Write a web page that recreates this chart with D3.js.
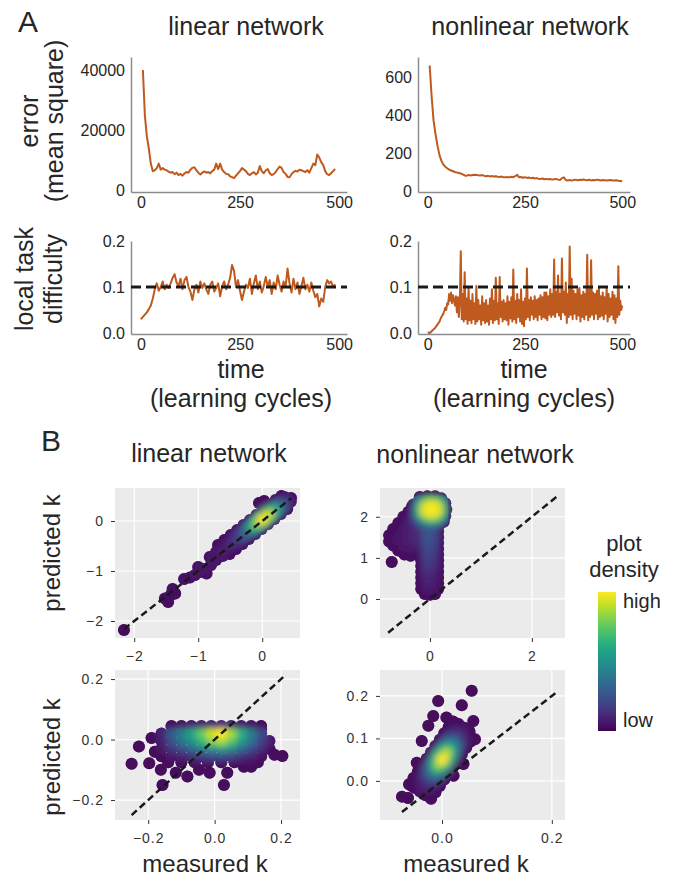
<!DOCTYPE html>
<html>
<head>
<meta charset="utf-8">
<script src="https://cdn.jsdelivr.net/npm/d3@7"></script>
<style>
  body { margin: 0; background: #fff; }
  text { font-family: "Liberation Sans", Arial, sans-serif; fill: #262626; }
</style>
</head>
<body>
<svg id="fig" width="673" height="880"></svg>
<script>

// ---- panel A data ----
var timeTicks = [0, 250, 500]

// sampled every 5 cycles from t = 5
var errLinear = [40000, 25000, 18000, 14000, 9000, 6500, 6800, 7500, 9000, 7000,
  7500, 7000, 6800, 6300, 6000, 6200, 5500, 6000, 5200, 5600,
  5000, 5800, 6200, 6000, 7000, 7600, 7800, 6800, 6000, 5400,
  6000, 6400, 6000, 6200, 5800, 6500, 7000, 9000, 7200, 9000,
  7000, 6200, 5600, 5500, 4800, 4500, 4200, 5000, 5800, 6500,
  7500, 7000, 6500, 5600, 5200, 5800, 6200, 5400, 6000, 8200,
  6500, 5800, 6800, 7200, 5800, 5200, 5500, 6200, 7200, 8000,
  7600, 6200, 5600, 4600, 4500, 5500, 6200, 6600, 6400, 7000,
  6800, 6500, 6200, 6800, 6000, 7500, 9000, 8500, 12000, 11000,
  9500, 8500, 6500, 5500, 5200, 5800, 6500, 7200]

// sampled every 5 cycles from t = 5
var errNonlinear = [660, 500, 370, 300, 240, 190, 160, 140, 128, 120,
  113, 108, 104, 100, 97, 95, 92, 88, 82, 80,
  85, 82, 84, 86, 85, 83, 82, 84, 80, 78,
  80, 77, 79, 76, 78, 75, 74, 76, 73, 72,
  74, 72, 75, 73, 78, 85, 72, 74, 70, 73,
  69, 71, 68, 70, 66, 68, 65, 64, 66, 62,
  64, 62, 63, 60, 62, 64, 60, 58, 68, 72,
  58, 56, 58, 55, 58, 60, 57, 59, 58, 61,
  58, 57, 59, 56, 58, 57, 60, 58, 56, 58,
  57, 55, 57, 58, 56, 55, 57, 54, 53, 51]

// sampled every 5 cycles from t = 0
var diffLinear = [0.030, 0.035, 0.040, 0.045, 0.052, 0.060, 0.075, 0.095, 0.108, 0.092,
  0.100, 0.112, 0.095, 0.105, 0.098, 0.108, 0.120, 0.128, 0.110, 0.102,
  0.118, 0.095, 0.115, 0.122, 0.100, 0.090, 0.072, 0.095, 0.105, 0.088,
  0.112, 0.098, 0.108, 0.095, 0.085, 0.105, 0.112, 0.090, 0.098, 0.108,
  0.080, 0.102, 0.112, 0.095, 0.105, 0.120, 0.148, 0.135, 0.100, 0.115,
  0.092, 0.072, 0.090, 0.105, 0.098, 0.118, 0.085, 0.108, 0.125, 0.095,
  0.112, 0.088, 0.102, 0.122, 0.100, 0.115, 0.085, 0.110, 0.095, 0.125,
  0.105, 0.090, 0.112, 0.100, 0.140, 0.108, 0.088, 0.118, 0.095, 0.110,
  0.085, 0.102, 0.120, 0.095, 0.105, 0.090, 0.110, 0.092, 0.078, 0.085,
  0.058, 0.075, 0.068, 0.100, 0.115, 0.108, 0.112, 0.100, 0.106]

// sampled every 2.5 cycles from t = 0
var diffNonlinear = [0.002, 0.001, 0.000, 0.002, 0.004, 0.006, 0.008, 0.010, 0.012, 0.016,
  0.018, 0.022, 0.024, 0.030, 0.035, 0.038, 0.042, 0.048, 0.055, 0.050, 0.065,
  0.062, 0.085, 0.070, 0.088, 0.065, 0.082, 0.072, 0.060, 0.080, 0.045,
  0.078, 0.035, 0.070, 0.178, 0.030, 0.085, 0.025, 0.132, 0.030, 0.075,
  0.020, 0.100, 0.028, 0.070, 0.022, 0.085, 0.030, 0.065, 0.020, 0.102,
  0.025, 0.072, 0.030, 0.060, 0.018, 0.080, 0.028, 0.065, 0.022, 0.072,
  0.025, 0.060, 0.018, 0.075, 0.030, 0.095, 0.022, 0.070, 0.028, 0.120,
  0.030, 0.065, 0.020, 0.122, 0.035, 0.068, 0.025, 0.072, 0.030, 0.065,
  0.028, 0.080, 0.018, 0.068, 0.032, 0.078, 0.025, 0.138, 0.030, 0.070,
  0.022, 0.085, 0.035, 0.072, 0.025, 0.095, 0.020, 0.068, 0.015, 0.075,
  0.030, 0.140, 0.035, 0.072, 0.028, 0.078, 0.040, 0.070, 0.030, 0.080,
  0.035, 0.072, 0.028, 0.075, 0.040, 0.082, 0.030, 0.078, 0.035, 0.088,
  0.032, 0.088, 0.028, 0.080, 0.040, 0.095, 0.035, 0.085, 0.040, 0.160,
  0.035, 0.090, 0.045, 0.125, 0.038, 0.085, 0.030, 0.162, 0.045, 0.090,
  0.040, 0.110, 0.022, 0.085, 0.035, 0.188, 0.040, 0.118, 0.030, 0.092,
  0.042, 0.085, 0.030, 0.095, 0.038, 0.098, 0.025, 0.082, 0.035, 0.090,
  0.030, 0.085, 0.040, 0.170, 0.028, 0.095, 0.035, 0.158, 0.040, 0.088,
  0.030, 0.085, 0.042, 0.092, 0.030, 0.100, 0.035, 0.080, 0.038, 0.088,
  0.030, 0.078, 0.042, 0.100, 0.025, 0.085, 0.035, 0.075, 0.040, 0.090,
  0.030, 0.082, 0.022, 0.075, 0.035, 0.145, 0.040, 0.070, 0.050, 0.060]

var targetDifficulty = 0.1

// ---- panel B data: [measured k, predicted k, plot density] ----
var linTopPts = [
  [-2.16, -2.18, 0.02],
  [-1.47, -1.62, 0.03], [-1.52, -1.55, 0.03], [-1.40, -1.36, 0.03], [-1.36, -1.45, 0.03], [-1.43, -1.48, 0.04],
  [-1.22, -1.16, 0.04], [-1.13, -1.13, 0.04], [-1.05, -1.08, 0.05],
  [-1.00, -0.92, 0.05], [-0.97, -1.02, 0.05], [-0.87, -1.05, 0.04], [-0.90, -0.96, 0.06], [-0.82, -0.72, 0.05],
  [-0.80, -0.88, 0.06], [-0.72, -0.62, 0.06], [-0.72, -0.78, 0.06], [-0.66, -0.60, 0.07], [-0.62, -0.70, 0.06],
  [-0.60, -0.57, 0.07], [-0.555, -0.615, 0.04], [-0.645, -0.525, 0.04], [-0.51, -0.66, 0.02], [-0.69, -0.48, 0.02],
  [-0.50, -0.47, 0.11], [-0.455, -0.515, 0.06], [-0.545, -0.425, 0.06], [-0.41, -0.56, 0.02], [-0.59, -0.38, 0.02],
  [-0.40, -0.37, 0.17], [-0.355, -0.415, 0.10], [-0.445, -0.325, 0.10], [-0.31, -0.46, 0.03], [-0.49, -0.28, 0.03],
  [-0.30, -0.27, 0.28], [-0.255, -0.315, 0.17], [-0.345, -0.225, 0.17], [-0.21, -0.36, 0.03], [-0.39, -0.18, 0.03],
  [-0.20, -0.17, 0.48], [-0.155, -0.215, 0.29], [-0.245, -0.125, 0.29], [-0.11, -0.26, 0.04], [-0.29, -0.08, 0.04],
  [-0.10, -0.07, 0.78], [-0.055, -0.115, 0.47], [-0.145, -0.025, 0.47], [-0.01, -0.16, 0.05], [-0.19, 0.02, 0.05],
  [0.00, 0.03, 0.98], [0.045, -0.015, 0.60], [-0.045, 0.075, 0.60], [0.09, -0.06, 0.06], [-0.09, 0.12, 0.06],
  [0.10, 0.13, 0.90], [0.145, 0.085, 0.54], [0.055, 0.175, 0.54], [0.19, 0.04, 0.05], [0.01, 0.22, 0.05],
  [0.20, 0.23, 0.62], [0.245, 0.185, 0.37], [0.155, 0.275, 0.37], [0.29, 0.14, 0.04], [0.11, 0.32, 0.04],
  [0.30, 0.33, 0.32], [0.345, 0.285, 0.19], [0.255, 0.375, 0.19], [0.39, 0.24, 0.03], [0.21, 0.42, 0.03],
  [0.40, 0.43, 0.10], [0.445, 0.385, 0.05], [0.355, 0.475, 0.05], [0.45, 0.46, 0.02], [0.30, 0.50, 0.02],
  [-0.05, 0.36, 0.02], [0.03, 0.40, 0.02]
]

// nonlinear, top row: upper blob and stem read on a grid, plus wing and rim
var nlTopBlobX = [-0.22, -0.10, 0.02, 0.14, 0.24]
var nlTopBlobY = [2.38, 2.26, 2.14, 2.02, 1.90]
var nlTopBlobD = [
  [0.30, 0.60, 0.75, 0.65, 0.35],
  [0.50, 0.88, 0.97, 0.92, 0.60],
  [0.55, 0.93, 1.00, 0.95, 0.62],
  [0.40, 0.72, 0.85, 0.78, 0.45],
  [0.20, 0.38, 0.48, 0.42, 0.20]
]
var nlStemX = [-0.17, -0.06, 0.06, 0.16]
var nlStemY = [1.64, 1.50, 1.36, 1.22, 1.08, 0.94, 0.80, 0.66, 0.52, 0.38, 0.24]
var nlStemD = [
  [0.04, 0.26, 0.22, 0.05], [0.04, 0.25, 0.21, 0.05], [0.04, 0.23, 0.20, 0.04],
  [0.03, 0.21, 0.18, 0.04], [0.03, 0.19, 0.16, 0.04], [0.03, 0.17, 0.14, 0.04],
  [0.03, 0.15, 0.12, 0.04], [0.03, 0.12, 0.10, 0.03], [0.03, 0.10, 0.08, 0.03],
  [0.03, 0.08, 0.07, 0.03], [0.02, 0.06, 0.05, 0.03]
]
var nlTopPts = [
  [-0.20, 2.48, 0.03], [-0.05, 2.50, 0.03], [0.10, 2.50, 0.03], [0.22, 2.45, 0.03], [0.30, 2.33, 0.03],
  [0.32, 2.18, 0.03], [0.30, 2.02, 0.03], [0.27, 1.88, 0.03], [0.18, 1.80, 0.05], [-0.32, 2.30, 0.05],
  [-0.34, 2.15, 0.07], [-0.33, 2.00, 0.08], [-0.28, 1.85, 0.08],
  [-0.12, 1.78, 0.24], [0.00, 1.78, 0.28], [0.10, 1.78, 0.18],
  [-0.10, 0.12, 0.03], [0.00, 0.10, 0.03], [0.10, 0.12, 0.03],
  [-0.80, 1.40, 0.03], [-0.80, 1.55, 0.03], [-0.72, 1.70, 0.03], [-0.62, 1.85, 0.03], [-0.52, 2.00, 0.04],
  [-0.42, 2.12, 0.04], [-0.35, 2.25, 0.04], [-0.72, 1.30, 0.03], [-0.62, 1.18, 0.03], [-0.50, 1.08, 0.03],
  [-0.38, 1.05, 0.03], [-0.26, 1.08, 0.04], [-0.65, 1.45, 0.05], [-0.55, 1.60, 0.06], [-0.45, 1.75, 0.07],
  [-0.38, 1.90, 0.09], [-0.28, 2.00, 0.12], [-0.52, 1.30, 0.06], [-0.42, 1.45, 0.08], [-0.32, 1.60, 0.10],
  [-0.26, 1.80, 0.13], [-0.40, 1.25, 0.06], [-0.28, 1.35, 0.09], [-0.28, 1.50, 0.11],
  [-0.75, 0.90, 0.02]
]

// linear, bottom row: core read on a grid, plus the sparse rim
var linBotX = [-0.16, -0.13, -0.10, -0.07, -0.04, -0.01, 0.02, 0.05, 0.08, 0.11, 0.14, 0.165]
var linBotY = [0.045, 0.02, -0.005, -0.03, -0.055]
var linBotD = [
  [null, 0.034, 0.05, 0.07, 0.09, 0.11, 0.12, 0.10, 0.075, 0.05, 0.026, null],
  [0.10, 0.28, 0.42, 0.58, 0.75, 0.92, 1.00, 0.85, 0.62, 0.42, 0.22, null],
  [0.085, 0.24, 0.36, 0.49, 0.64, 0.78, 0.85, 0.72, 0.53, 0.36, 0.19, 0.07],
  [0.05, 0.14, 0.21, 0.29, 0.38, 0.46, 0.50, 0.43, 0.31, 0.21, 0.11, 0.04],
  [0.02, 0.056, 0.084, 0.12, 0.15, 0.18, 0.20, 0.17, 0.12, 0.084, 0.044, null]
]
var linBotPts = [
  [-0.14, -0.075, 0.02], [-0.10, -0.075, 0.02], [-0.06, -0.075, 0.02], [-0.02, -0.075, 0.02],
  [0.02, -0.075, 0.02], [0.06, -0.075, 0.02], [0.10, -0.075, 0.02], [0.13, -0.075, 0.02],
  [-0.228, -0.023, 0.02], [-0.25, -0.08, 0.02], [-0.197, -0.078, 0.02], [-0.162, -0.10, 0.02],
  [-0.157, -0.15, 0.02], [-0.117, -0.11, 0.02], [-0.082, -0.122, 0.02], [-0.047, -0.10, 0.02],
  [-0.015, -0.11, 0.02], [0.028, -0.15, 0.02], [0.038, -0.11, 0.02], [0.088, -0.09, 0.02],
  [0.11, -0.09, 0.02], [0.148, -0.034, 0.02], [0.18, -0.05, 0.02], [0.204, -0.054, 0.02],
  [-0.18, -0.04, 0.02], [-0.19, 0.005, 0.02], [0.14, 0.035, 0.02]
]

// nonlinear, bottom row
var nlBotPts = [
  [-0.04, -0.025, 0.05], [-0.03, -0.034, 0.03], [-0.05, -0.016, 0.03], [-0.02, -0.042, 0.02], [-0.06, -0.008, 0.02],
  [-0.032, -0.01, 0.10], [-0.022, -0.019, 0.06], [-0.042, -0.001, 0.06], [-0.012, -0.027, 0.02], [-0.052, 0.007, 0.02],
  [-0.024, 0.005, 0.22], [-0.014, -0.004, 0.14], [-0.034, 0.014, 0.14], [-0.004, -0.012, 0.03], [-0.044, 0.022, 0.03],
  [-0.016, 0.02, 0.45], [-0.006, 0.011, 0.29], [-0.026, 0.029, 0.29], [0.004, 0.003, 0.04], [-0.036, 0.037, 0.04],
  [-0.008, 0.035, 0.78], [0.002, 0.026, 0.50], [-0.018, 0.044, 0.50], [0.012, 0.018, 0.05], [-0.028, 0.052, 0.05],
  [0.000, 0.05, 1.00], [0.010, 0.041, 0.65], [-0.010, 0.059, 0.65], [0.020, 0.033, 0.06], [-0.020, 0.067, 0.06],
  [0.008, 0.065, 0.88], [0.018, 0.056, 0.57], [-0.002, 0.074, 0.57], [0.028, 0.048, 0.05], [-0.012, 0.082, 0.05],
  [0.016, 0.08, 0.60], [0.026, 0.071, 0.39], [0.006, 0.089, 0.39], [0.036, 0.063, 0.04], [-0.004, 0.097, 0.04],
  [0.024, 0.095, 0.32], [0.034, 0.086, 0.20], [0.014, 0.104, 0.20], [0.044, 0.078, 0.03], [0.004, 0.112, 0.03],
  [0.032, 0.11, 0.13], [0.042, 0.101, 0.07], [0.022, 0.119, 0.07], [0.052, 0.093, 0.02], [0.012, 0.127, 0.02],
  [0.040, 0.125, 0.05], [0.050, 0.116, 0.02], [0.030, 0.134, 0.02],
  [-0.016, 0.153, 0.02], [-0.007, 0.188, 0.02], [0.036, 0.178, 0.02], [0.054, 0.212, 0.02], [0.008, 0.149, 0.02],
  [0.057, 0.141, 0.02], [0.060, 0.098, 0.02], [0.039, 0.125, 0.02], [-0.037, 0.094, 0.02], [-0.046, 0.043, 0.02],
  [-0.055, -0.012, 0.02], [-0.073, -0.037, 0.02], [-0.062, -0.04, 0.02], [-0.022, -0.028, 0.02], [0.021, 0.012, 0.02],
  [0.039, 0.04, 0.02], [-0.025, 0.13, 0.02], [0.020, 0.14, 0.02]
]

// identity reference: from min to max of the data
var diagLinTop = [-2.16, 0.46]
var diagNlTop = [-0.82, 2.5]
var diagLinBot = [-0.25, 0.21]
var diagNlBot = [-0.073, 0.209]

var orange = '#bf5a1f'
var textColor = '#262626'
var svg = d3.select('#fig')
var defs = svg.append('defs')

defs.append('filter')
  .attr('id', 'soft')
  .attr('x', '-30%').attr('y', '-30%').attr('width', '160%').attr('height', '160%')
  .append('feGaussianBlur')
  .attr('stdDeviation', 3)

function gridToPoints(xs, ys, ds) {
  var out = []
  ys.forEach(function (yv, i) {
    xs.forEach(function (xv, j) {
      if (ds[i][j] !== null) out.push([xv, yv, ds[i][j]])
    })
  })
  return out
}

function drawLinePanel(o) {
  var x = d3.scaleLinear().domain([-25, 520]).range([o.left, o.right])
  var y = d3.scaleLinear().domain(o.yDomain).range([o.bottom, o.top])
  var g = svg.append('g')

  g.append('g')
    .attr('transform', 'translate(0,' + o.bottom + ')')
    .call(d3.axisBottom(x).tickValues(timeTicks).tickSize(0).tickPadding(5))
  g.append('g')
    .attr('transform', 'translate(' + o.left + ',0)')
    .call(d3.axisLeft(y).tickValues(o.yTicks).tickSize(0).tickPadding(6).tickFormat(d3.format(o.yFormat)))
  g.selectAll('.domain').attr('stroke', '#8c8c8c').attr('stroke-width', 1.5)
  g.selectAll('.tick text')
    .attr('font-size', 16)
    .attr('font-family', '"Liberation Sans", Arial, sans-serif')
    .style('fill', textColor)

  var line = d3.line()
    .x(function (d, i) { return x(o.start + i * o.step) })
    .y(function (d) { return y(d) })
  g.append('path')
    .attr('d', line(o.values))
    .attr('fill', 'none')
    .attr('stroke', orange)
    .attr('stroke-width', 2)
    .attr('stroke-linejoin', 'round')

  if (o.ref !== undefined) {
    g.append('line')
      .attr('x1', o.left).attr('x2', o.right)
      .attr('y1', y(o.ref)).attr('y2', y(o.ref))
      .attr('stroke', '#1a1a1a')
      .attr('stroke-width', 3)
      .attr('stroke-dasharray', '10,5')
  }
}

function drawScatterPanel(o) {
  var w = 185, h = 150
  var x = d3.scaleLinear().domain(o.xDomain).range([o.left, o.left + w])
  var y = d3.scaleLinear().domain(o.yDomain).range([o.top + h, o.top])
  var g = svg.append('g')

  g.append('rect')
    .attr('x', o.left).attr('y', o.top)
    .attr('width', w).attr('height', h)
    .attr('fill', '#ebebeb')
  g.selectAll('.vgrid').data(o.xTicks).enter().append('line')
    .attr('x1', function (d) { return x(d) }).attr('x2', function (d) { return x(d) })
    .attr('y1', o.top).attr('y2', o.top + h)
    .attr('stroke', '#fff').attr('stroke-width', 1.2)
  g.selectAll('.hgrid').data(o.yTicks).enter().append('line')
    .attr('y1', function (d) { return y(d) }).attr('y2', function (d) { return y(d) })
    .attr('x1', o.left).attr('x2', o.left + w)
    .attr('stroke', '#fff').attr('stroke-width', 1.2)

  var pts = o.points.slice().sort(function (a, b) { return a[2] - b[2] })

  // union of all points, used to keep the smoothed colour inside the cloud
  defs.append('clipPath').attr('id', o.id)
    .selectAll('circle').data(pts).enter().append('circle')
    .attr('cx', function (d) { return x(d[0]) })
    .attr('cy', function (d) { return y(d[1]) })
    .attr('r', 6)

  function addDots(sel) {
    sel.selectAll('circle').data(pts).enter().append('circle')
      .attr('cx', function (d) { return x(d[0]) })
      .attr('cy', function (d) { return y(d[1]) })
      .attr('r', 6)
      .attr('fill', function (d) { return d3.interpolateViridis(d[2]) })
  }
  addDots(g.append('g'))
  addDots(g.append('g').attr('clip-path', 'url(#' + o.id + ')').append('g').attr('filter', 'url(#soft)'))

  g.append('line')
    .attr('x1', x(o.diag[0])).attr('y1', y(o.diag[0]))
    .attr('x2', x(o.diag[1])).attr('y2', y(o.diag[1]))
    .attr('stroke', '#1a1a1a')
    .attr('stroke-width', 2.5)
    .attr('stroke-dasharray', '7,4')

  var fmt = d3.format(o.format)
  g.append('g')
    .attr('transform', 'translate(0,' + (o.top + h) + ')')
    .call(d3.axisBottom(x).tickValues(o.xTicks).tickSize(4).tickPadding(9).tickFormat(fmt))
  g.append('g')
    .attr('transform', 'translate(' + o.left + ',0)')
    .call(d3.axisLeft(y).tickValues(o.yTicks).tickSize(4).tickPadding(7).tickFormat(fmt))
  g.selectAll('.domain').remove()
  g.selectAll('.tick line').attr('stroke', '#333')
  g.selectAll('.tick text')
    .attr('font-size', 14)
    .attr('font-family', '"DejaVu Sans", sans-serif')
    .attr('letter-spacing', 1)
    .style('fill', '#333')
}

function addText(str, x, y, size, opts) {
  opts = opts || {}
  var t = svg.append('text')
    .attr('font-size', size)
    .attr('text-anchor', opts.anchor || 'middle')
    .text(str)
  if (opts.rotate) {
    t.attr('transform', 'translate(' + x + ',' + y + ') rotate(-90)')
  } else {
    t.attr('x', x).attr('y', y)
  }
  return t
}

// ---- panel A ----
drawLinePanel({ left: 131, right: 347, top: 57, bottom: 192, yDomain: [-400, 44300],
  yTicks: [0, 20000, 40000], yFormat: 'd', start: 5, step: 5, values: errLinear })
drawLinePanel({ left: 418, right: 630, top: 57, bottom: 192, yDomain: [-5, 705],
  yTicks: [0, 200, 400, 600], yFormat: 'd', start: 5, step: 5, values: errNonlinear })
drawLinePanel({ left: 131, right: 347, top: 241, bottom: 334, yDomain: [-0.002, 0.2],
  yTicks: [0, 0.1, 0.2], yFormat: '.1f', start: 0, step: 5, values: diffLinear, ref: targetDifficulty })
drawLinePanel({ left: 418, right: 630, top: 241, bottom: 334, yDomain: [-0.002, 0.2],
  yTicks: [0, 0.1, 0.2], yFormat: '.1f', start: 0, step: 2.5, values: diffNonlinear, ref: targetDifficulty })

addText('A', 18, 32, 30, { anchor: 'start' })
addText('linear network', 246, 35, 25)
addText('nonlinear network', 530, 35, 25)
addText('error', 38, 121, 25, { rotate: true })
addText('(mean square)', 63, 121, 25, { rotate: true })
addText('local task', 33, 279, 25, { rotate: true })
addText('difficulty', 62, 279, 25, { rotate: true })
addText('time', 241, 378, 25)
addText('(learning cycles)', 241, 407, 25)
addText('time', 524, 378, 25)
addText('(learning cycles)', 524, 407, 25)

// ---- panel B ----
drawScatterPanel({ id: 'cloudB1', left: 115, top: 488, xDomain: [-2.3, 0.59], yDomain: [-2.34, 0.66],
  xTicks: [-2, -1, 0], yTicks: [-2, -1, 0], format: '.0f', points: linTopPts, diag: diagLinTop })
drawScatterPanel({ id: 'cloudB2', left: 380, top: 488, xDomain: [-0.98, 2.65], yDomain: [-0.95, 2.7],
  xTicks: [0, 2], yTicks: [0, 1, 2], format: '.0f',
  points: gridToPoints(nlTopBlobX, nlTopBlobY, nlTopBlobD).concat(gridToPoints(nlStemX, nlStemY, nlStemD), nlTopPts),
  diag: diagNlTop })
drawScatterPanel({ id: 'cloudB3', left: 115, top: 670, xDomain: [-0.3, 0.257], yDomain: [-0.266, 0.23],
  xTicks: [-0.2, 0, 0.2], yTicks: [-0.2, 0, 0.2], format: '.1f',
  points: gridToPoints(linBotX, linBotY, linBotD).concat(linBotPts), diag: diagLinBot })
drawScatterPanel({ id: 'cloudB4', left: 380, top: 670, xDomain: [-0.113, 0.224], yDomain: [-0.092, 0.261],
  xTicks: [0, 0.2], yTicks: [0, 0.1, 0.2], format: '.1f', points: nlBotPts, diag: diagNlBot })

addText('B', 41, 451, 30, { anchor: 'start' })
addText('linear network', 209, 462, 25)
addText('nonlinear network', 475, 463, 25)
addText('predicted k', 60, 553, 24, { rotate: true })
addText('predicted k', 60, 757, 24, { rotate: true })
addText('measured k', 205, 872, 24)
addText('measured k', 466, 872, 24)

// colour bar
var grad = defs.append('linearGradient')
  .attr('id', 'viridisBar')
  .attr('x1', 0).attr('y1', 1).attr('x2', 0).attr('y2', 0)
grad.selectAll('stop').data(d3.range(0, 1.01, 0.1)).enter().append('stop')
  .attr('offset', function (d) { return d })
  .attr('stop-color', function (d) { return d3.interpolateViridis(d) })
svg.append('rect')
  .attr('x', 598).attr('y', 592).attr('width', 18).attr('height', 139)
  .attr('fill', 'url(#viridisBar)')

addText('plot', 624, 551, 22)
addText('density', 624, 577, 22)
addText('high', 623, 608, 20, { anchor: 'start' })
addText('low', 623, 727, 20, { anchor: 'start' })

</script>
</body>
</html>
